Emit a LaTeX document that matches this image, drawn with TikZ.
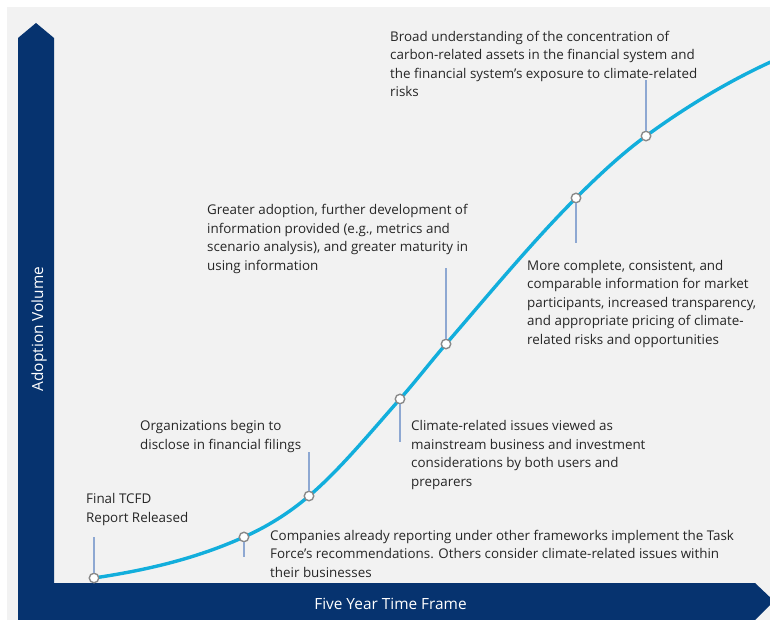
\documentclass[tikz,border=0pt]{standalone}
\usepackage{fontspec}
\setmainfont{Open Sans}
\definecolor{navy}{HTML}{06336F}
\definecolor{bggray}{HTML}{F2F2F2}
\definecolor{curvecyan}{HTML}{12AEDC}
\definecolor{leadblue}{HTML}{8EA8D2}
\definecolor{txt}{HTML}{262626}
\definecolor{dotgray}{HTML}{8A8A8A}
\begin{document}
\begin{tikzpicture}[x=1pt,y=-1pt,
  dotnode/.style={circle,draw=dotgray,fill=white,line width=1.4pt,minimum size=9.5pt,inner sep=0pt},
  leader/.style={draw=leadblue,line width=1.4pt},
  lbl/.style={anchor=base west,inner sep=0pt,align=left,text=txt,font=\fontsize{13.4}{18.5}\selectfont},
  axislbl/.style={text=white,inner sep=0pt,font=\fontsize{15.4}{18}\selectfont}]
\useasboundingbox (0,0) rectangle (770,620);
\clip (0,0) rectangle (770,620);
\fill[bggray] (7,7) rectangle (770,620);
% axes
\fill[navy] (18,620) -- (18,38) -- (36,23) -- (54,38) -- (54,583) -- (755,583) -- (774,601) -- (755,620) -- cycle;
\node[axislbl,rotate=90] (ylab) at (39,329) {Adoption Volume};
\node[axislbl] (xlab) at (390.5,603.5) {Five Year Time Frame};
% curve points
\coordinate (p1) at (94,578);
\coordinate (p2) at (244,537);
\coordinate (p3) at (309,496);
\coordinate (p4) at (400,399);
\coordinate (p5) at (446,344);
\coordinate (p6) at (576,198);
\coordinate (p7) at (646,136);
\coordinate (p8) at (775,60);
\draw[curvecyan,line width=3.4pt]
  (p1) .. controls (144,570.5) and (194,559.5) ..
  (p2) .. controls (265.67,527.25) and (287.33,514.42) ..
  (p3) .. controls (339.33,470.22) and (369.67,433.27) ..
  (p4) .. controls (415.33,381.68) and (430.67,361.79) ..
  (p5) .. controls (489.33,293.73) and (532.67,241.33) ..
  (p6) .. controls (599.33,174.67) and (622.67,153.03) ..
  (p7) .. controls (689,104.61) and (732,79.35) .. (p8);
% leader end points
\coordinate (e1) at (94,537);
\coordinate (e2) at (244,557);
\coordinate (e3) at (309,452);
\coordinate (e4) at (400,442);
\coordinate (e5) at (446,268);
\coordinate (e6) at (576,243);
\coordinate (e7) at (646,80);
% dots
\foreach \i in {1,...,7} {\node[dotnode] (d\i) at (p\i) {};}
\foreach \i in {1,...,7} {\draw[leader] (d\i) -- (e\i);}
% labels (anchored at the baseline of their last line)
\node[lbl] (t1) at (86,522) {Final TCFD\\Report Released};
\node[lbl] (t2) at (270,577) {Companies already reporting under other frameworks implement the Task\\Force’s recommendations. Others consider climate-related issues within\\their businesses};
\node[lbl] (t3) at (140,449) {Organizations begin to\\disclose in financial filings};
\node[lbl] (t4) at (411,486) {Climate-related issues viewed as\\mainstream business and investment\\considerations by both users and\\preparers};
\node[lbl] (t5) at (207,270) {Greater adoption, further development of\\information provided (e.g., metrics and\\scenario analysis), and greater maturity in\\using information};
\node[lbl] (t6) at (527,344) {More complete, consistent, and\\comparable information for market\\participants, increased transparency,\\and appropriate pricing of climate-\\related risks and opportunities};
\node[lbl] (t7) at (390,97) {Broad understanding of the concentration of\\carbon-related assets in the financial system and\\the financial system’s exposure to climate-related\\risks};
\end{tikzpicture}
\end{document}
